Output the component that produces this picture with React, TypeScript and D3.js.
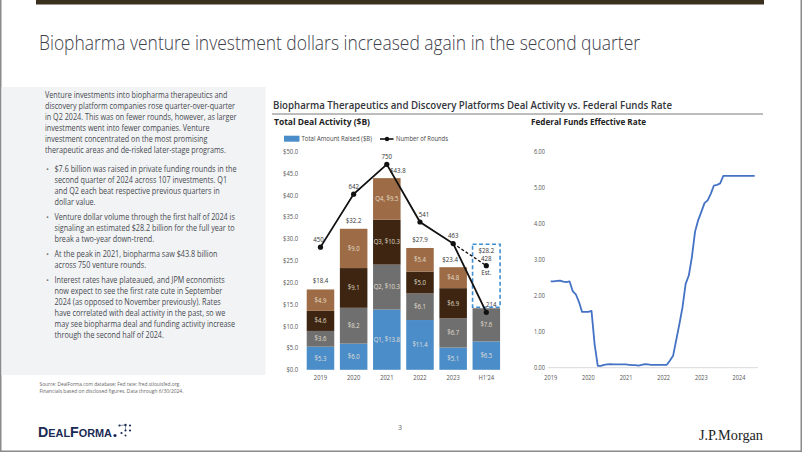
import React from "react";
import * as d3 from "d3";

// ---------------- DATA ----------------
const years = ["2019", "2020", "2021", "2022", "2023", "H1'24"];
const q1 = [5.3, 6.0, 13.8, 11.4, 5.1, 6.5];
const q2 = [3.6, 8.2, 10.3, 6.1, 6.7, 7.6];
const q3 = [4.6, 9.1, 10.3, 5.0, 6.9, 0];
const q4 = [4.9, 9.0, 9.5, 5.4, 4.8, 0];
const totalLabels = ["$18.4", "$32.2", "$43.8", "$27.9", "$23.4", ""];
const totals = [18.4, 32.2, 43.8, 27.9, 23.4, 14.1];
const rounds = [450, 642, 750, 541, 463, 214];
const estTotal = 28.2;
const estTotalLabel = "$28.2";
const estRoundsLabel = "428";
const estRoundsMarker = 383; // marker position as drawn in the picture
const yTicksBar = [0, 5, 10, 15, 20, 25, 30, 35, 40, 45, 50];

const fedYears = [2019, 2020, 2021, 2022, 2023, 2024];
const fedTicks = [0, 1, 2, 3, 4, 5, 6];
// monthly effective federal funds rate, Jan 2019 .. Jun 2024
const fedRate = [
  2.4, 2.4, 2.41, 2.42, 2.39, 2.38, 2.4, 2.13, 2.04, 1.83, 1.55, 1.55,
  1.55, 1.58, 0.65, 0.05, 0.05, 0.08, 0.09, 0.1, 0.09, 0.09, 0.09, 0.09,
  0.09, 0.08, 0.07, 0.07, 0.06, 0.08, 0.1, 0.09, 0.08, 0.08, 0.08, 0.08,
  0.08, 0.08, 0.2, 0.33, 0.77, 1.21, 1.68, 2.33, 2.56, 3.08, 3.78, 4.1,
  4.33, 4.57, 4.65, 4.83, 5.06, 5.08, 5.12, 5.33, 5.33, 5.33, 5.33, 5.33,
  5.33, 5.33, 5.33, 5.33, 5.33, 5.33,
];

const slideTitle = "Biopharma venture investment dollars increased again in the second quarter";
const chartTitle = "Biopharma Therapeutics and Discovery Platforms Deal Activity vs. Federal Funds Rate";
const paragraph = [
  "Venture investments into biopharma therapeutics and",
  "discovery platform companies rose quarter-over-quarter",
  "in Q2 2024. This was on fewer rounds, however, as larger",
  "investments went into fewer companies. Venture",
  "investment concentrated on the most promising",
  "therapeutic areas and de-risked later-stage programs.",
];
const bullets = [
  [
    "$7.6 billion was raised in private funding rounds in the",
    "second quarter of 2024 across 107 investments. Q1",
    "and Q2 each beat respective previous quarters in",
    "dollar value.",
  ],
  [
    "Venture dollar volume through the first half of 2024 is",
    "signaling an estimated $28.2 billion for the full year to",
    "break a two-year down-trend.",
  ],
  ["At the peak in 2021, biopharma saw $43.8 billion", "across 750 venture rounds."],
  [
    "Interest rates have plateaued, and JPM economists",
    "now expect to see the first rate cute in September",
    "2024 (as opposed to November previously). Rates",
    "have correlated with deal activity in the past, so we",
    "may see biopharma deal and funding activity increase",
    "through the second half of 2024.",
  ],
];
const sourceLines = [
  "Source: DealForma.com database; Fed rate: fred.stlouisfed.org.",
  "Financials based on disclosed figures. Data through 6/30/2024.",
];

// ---------------- STYLE ----------------
const SANS = "'Open Sans', 'Noto Sans', Roboto, sans-serif";
const SERIF = "'Liberation Serif', 'DejaVu Serif', serif";
const qColors = ["#4b8dc8", "#6f6f6f", "#3d2512", "#9d6c46"];
const qKeys = ["q1", "q2", "q3", "q4"];

function T(props: any) {
  const {
    x, y, size, k = 1, w, anchor = "start", weight = 400, fill = "#444",
    family = SANS, children, opacity,
  } = props;
  if (w) {
    return (
      <text x={x} y={y} fontSize={size} fontFamily={family} fontWeight={weight}
        fill={fill} textAnchor={anchor} textLength={w} lengthAdjust="spacingAndGlyphs"
        opacity={opacity}>
        {children}
      </text>
    );
  }
  return (
    <text transform={`translate(${x},${y}) scale(${k},1)`} fontSize={size}
      fontFamily={family} fontWeight={weight} fill={fill} textAnchor={anchor}
      opacity={opacity}>
      {children}
    </text>
  );
}

export default function App() {
  // ---- bar chart scales ----
  const x = d3.scaleBand<string>().domain(years).range([303.4, 503.4])
    .paddingInner(0.17).paddingOuter(0.1);
  const y = d3.scaleLinear().domain([0, 50]).range([369.8, 151.5]);
  const yR = d3.scaleLinear().domain([0, 800]).range([371.4, 150.5]);

  const table = years.map((yr, i) => ({ year: yr, q1: q1[i], q2: q2[i], q3: q3[i], q4: q4[i] }));
  const stacked = d3.stack<any>().keys(qKeys)(table);

  const cx = (yr: string) => (x(yr) as number) + x.bandwidth() / 2;
  const roundsLine = d3.line<number>().x((_, i) => cx(years[i])).y((d) => yR(d));
  const lastYr = years[years.length - 1];
  const prevYr = years[years.length - 2];

  // ---- fed chart scales ----
  const fx = d3.scaleLinear().domain([2019, 2024]).range([550.7, 739]);
  const fy = d3.scaleLinear().domain([0, 6]).range([367.7, 151.7]);
  const fedLine = d3.line<number>().x((_, i) => fx(2019 + i / 12)).y((d) => fy(d));

  // ---- left panel layout ----
  const lineH = 11;
  const panelRows: { text: string; y: number; bullet: boolean; first: boolean }[] = [];
  let cy = 98;
  paragraph.forEach((t, i) => {
    panelRows.push({ text: t, y: cy, bullet: false, first: false });
    if (i < paragraph.length - 1) cy += lineH;
  });
  bullets.forEach((b, bi) => {
    cy += lineH + (bi === 0 ? 8 : 4);
    b.forEach((t, li) => {
      if (li > 0) cy += lineH;
      panelRows.push({ text: t, y: cy, bullet: true, first: li === 0 });
    });
  });

  const rLabelDx = [-2, 0, 0, 4, 0, 5];
  const totalDx = [0, 0, 11, 0, -3, 0];

  return (
    <svg width={802} height={452} style={{ position: "absolute", left: 0, top: 0, background: "#fff" }}>
      <rect x={0} y={0} width={802} height={452} fill="#fff" />
      {/* top bar */}
      <rect x={36} y={0} width={728} height={4.5} fill="#3b2f1e" />
      {/* slide frame */}
      <line x1={0.75} y1={0} x2={0.75} y2={451} stroke="#8a8a8a" strokeWidth={1.5} />
      <line x1={801.25} y1={0} x2={801.25} y2={451} stroke="#8a8a8a" strokeWidth={1.5} />
      <line x1={0} y1={451.25} x2={802} y2={451.25} stroke="#8a8a8a" strokeWidth={1.5} />

      {/* slide title */}
      <T x={39} y={50} size={20} weight={300} fill="#3c4049" w={601}>{slideTitle}</T>

      {/* left panel */}
      <rect x={1.5} y={87} width={264} height={288} fill="#f2f3f5" />
      {panelRows.map((r, i) => (
        <g key={i}>
          {r.bullet && r.first && (
            <text x={46} y={r.y} fontSize={8} fontFamily={SANS} fill="#7a7a7a">•</text>
          )}
          <T x={r.bullet ? 54.5 : 45} y={r.y} size={8.7} k={0.83} fill="#474a50">{r.text}</T>
        </g>
      ))}

      {/* chart header */}
      <T x={273} y={108.5} size={11} weight={600} fill="#33363b" w={399}>{chartTitle}</T>
      <line x1={272} y1={114} x2={763} y2={114} stroke="#7a7a7a" strokeWidth={1} />
      <T x={274} y={125} size={9.5} weight={700} fill="#222" w={96}>Total Deal Activity ($B)</T>
      <T x={531} y={125} size={9.5} weight={700} fill="#222" w={115}>Federal Funds Effective Rate</T>

      {/* legend */}
      <rect x={284} y={135.7} width={15.5} height={6} fill={qColors[0]} />
      <T x={301.5} y={141.2} size={6.5} fill="#444" w={70.5}>Total Amount Raised ($B)</T>
      <line x1={380} y1={139} x2={393.5} y2={139} stroke="#111" strokeWidth={1.6} />
      <circle cx={387} cy={139} r={2.2} fill="#111" />
      <T x={396} y={141.2} size={6.5} fill="#444" w={52}>Number of Rounds</T>

      {/* bar y axis */}
      {yTicksBar.map((t) => (
        <T key={t} x={298} y={y(t) + 2.4} size={6.8} k={0.86} anchor="end" fill="#555">
          {"$" + t.toFixed(1)}
        </T>
      ))}
      {years.map((yr) => (
        <T key={yr} x={cx(yr)} y={380} size={6.8} k={0.86} anchor="middle" fill="#555">{yr}</T>
      ))}

      {/* stacked bars */}
      {stacked.map((layer, li) => (
        <g key={layer.key}>
          {layer.map((d: any, i: number) => {
            const v = d[1] - d[0];
            if (v <= 0) return null;
            return (
              <rect key={i} x={x(years[i])} y={y(d[1])} width={x.bandwidth()}
                height={y(d[0]) - y(d[1])} fill={qColors[li]} />
            );
          })}
        </g>
      ))}
      {stacked.map((layer, li) => (
        <g key={"l" + layer.key}>
          {layer.map((d: any, i: number) => {
            const v = d[1] - d[0];
            if (v <= 0) return null;
            const prefix = years[i] === "2021" ? `Q${li + 1}, ` : "";
            return (
              <T key={i} x={cx(years[i])} y={y((d[0] + d[1]) / 2) + 2.4} size={6.8} k={0.88}
                anchor="middle" fill="#efe6dc" opacity={0.9}>
                {prefix + "$" + v.toFixed(1)}
              </T>
            );
          })}
        </g>
      ))}
      {/* totals */}
      {years.map((yr, i) =>
        totalLabels[i] ? (
          <T key={yr} x={cx(yr) + totalDx[i]} y={y(totals[i]) - 6} size={7} k={0.88}
            anchor="middle" fill="#333">{totalLabels[i]}</T>
        ) : null
      )}

      {/* H1'24 estimate box */}
      <rect x={x(lastYr)} y={y(estTotal) - 2.5} width={x.bandwidth()}
        height={y(totals[totals.length - 1]) - y(estTotal) + 1.5}
        fill="none" stroke="#3d8fd1" strokeWidth={1.6} strokeDasharray="4,2.5" />
      <T x={cx(lastYr)} y={y(estTotal) + 6.5} size={7} k={0.88} anchor="middle" fill="#333">{estTotalLabel}</T>

      {/* rounds line */}
      <line x1={cx(prevYr)} y1={yR(rounds[rounds.length - 2])} x2={cx(lastYr)} y2={yR(estRoundsMarker)}
        stroke="#111" strokeWidth={1.3} strokeDasharray="3,2" />
      <path d={roundsLine(rounds) || ""} fill="none" stroke="#111" strokeWidth={1.8} />
      {rounds.map((r, i) => (
        <circle key={i} cx={cx(years[i])} cy={yR(r)} r={2.6} fill="#111" />
      ))}
      <circle cx={cx(lastYr)} cy={yR(estRoundsMarker)} r={2.6} fill="#111" />
      {rounds.map((r, i) => (
        <T key={i} x={cx(years[i]) + rLabelDx[i]} y={yR(r) - 5.5} size={7} k={0.88}
          anchor="middle" fill="#333">{String(r)}</T>
      ))}
      <T x={cx(lastYr)} y={yR(estRoundsMarker) - 4.2} size={7} k={0.88} anchor="middle" fill="#333">
        {estRoundsLabel}
      </T>
      <T x={cx(lastYr)} y={yR(estRoundsMarker) + 9.5} size={7} k={0.88} anchor="middle" fill="#333">Est.</T>

      {/* fed funds chart */}
      <line x1={548} y1={fy(0)} x2={758} y2={fy(0)} stroke="#d9d9d9" strokeWidth={1} />
      {fedTicks.map((t) => (
        <T key={t} x={545} y={fy(t) + 2.3} size={6.5} k={0.86} anchor="end" fill="#555">{t.toFixed(2)}</T>
      ))}
      {fedYears.map((yr) => (
        <T key={yr} x={fx(yr)} y={379.5} size={6.5} k={0.86} anchor="middle" fill="#555">{String(yr)}</T>
      ))}
      <path d={fedLine(fedRate) || ""} fill="none" stroke="#4472c4" strokeWidth={1.8} strokeLinejoin="round" />

      {/* footer */}
      {sourceLines.map((s, i) => (
        <T key={i} x={39.5} y={386 + i * 6.8} size={5.5} fill="#666" w={i === 0 ? 141 : 144}>{s}</T>
      ))}
      <T x={400} y={430} size={7} fill="#666" anchor="middle">3</T>

      {/* DealForma logo */}
      <text x={38} y={437} fontFamily="'Liberation Sans', Arial, sans-serif" fontWeight={700}
        fill="#1b2b54" textLength={74} lengthAdjust="spacingAndGlyphs">
        <tspan fontSize={15}>D</tspan>
        <tspan fontSize={11.5}>EAL</tspan>
        <tspan fontSize={15}>F</tspan>
        <tspan fontSize={11.5}>ORMA</tspan>
      </text>
      <g fill="#1b2b54">
        <circle cx={115} cy={435.5} r={1.6} />
        <circle cx={119.5} cy={425.5} r={1.1} />
        <circle cx={125.5} cy={425} r={1.2} />
        <circle cx={130} cy={425.5} r={1.1} />
        <circle cx={125.5} cy={430.5} r={1.1} />
        <circle cx={130} cy={430.5} r={1.1} />
        <circle cx={121.5} cy={433} r={1.1} />
        <circle cx={125.5} cy={435.5} r={1} />
      </g>
      <line x1={119.5} y1={425.5} x2={125.5} y2={425} stroke="#1b2b54" strokeWidth={0.5} />
      <line x1={125.5} y1={425} x2={125.5} y2={430.5} stroke="#1b2b54" strokeWidth={0.5} />

      {/* J.P.Morgan */}
      <T x={699} y={439.5} size={14} family={SERIF} fill="#222" w={64}>J.P.Morgan</T>
    </svg>
  );
}
